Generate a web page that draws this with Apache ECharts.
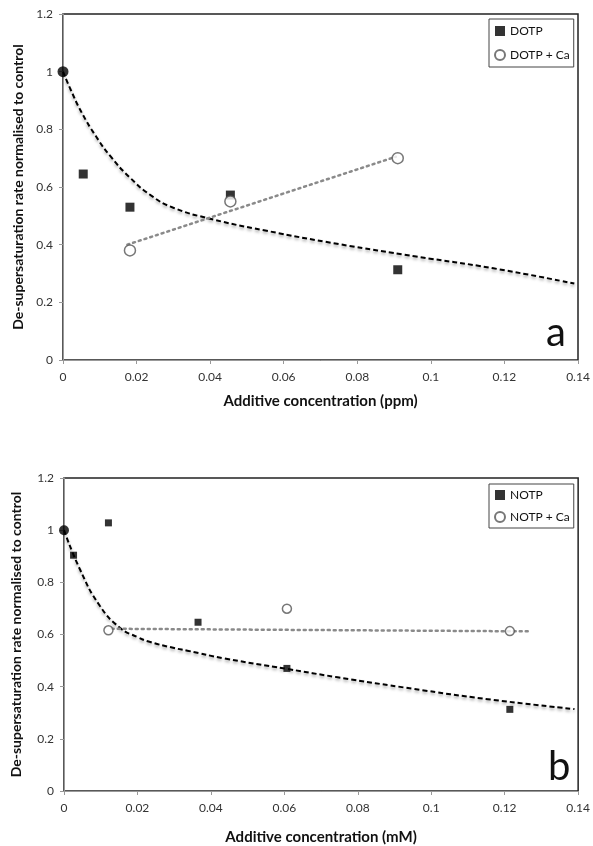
<!DOCTYPE html>
<html>
<head>
	<meta charset="UTF-8">
	<title>de-supersaturation rate</title>
	<script src="https://cdn.jsdelivr.net/npm/echarts@6/dist/echarts.min.js"></script>
	<style>
		body { margin: 0; background: #fff; }
		#chart { width: 593px; height: 846px; }
	</style>
</head>
<body>
<div id="chart"></div>
<script type="text/javascript">

	// panel a (ppm)
	var dotp = [[0.0055, 0.645], [0.0182, 0.53], [0.0455, 0.572], [0.091, 0.313]];
	var dotpCa = [[0.0182, 0.38], [0.0455, 0.55], [0.091, 0.70]];
	var dotpFit = [[0, 1.0], [0.002, 0.94], [0.005, 0.86], [0.009, 0.775], [0.013, 0.705], [0.018, 0.635],
		[0.024, 0.57], [0.03, 0.528], [0.04, 0.49], [0.055, 0.449], [0.075, 0.402], [0.096, 0.359],
		[0.117, 0.318], [0.139, 0.265]];
	var dotpCaTrend = [[0.0175, 0.40], [0.0905, 0.705]];

	// panel b (mM)
	var notp = [[0.0026, 0.904], [0.0121, 1.028], [0.0365, 0.647], [0.0607, 0.47], [0.1214, 0.313]];
	var notpCa = [[0.0121, 0.616], [0.0607, 0.699], [0.1214, 0.613]];
	var notpFit = [[0, 1.0], [0.0043, 0.851], [0.0097, 0.711], [0.0153, 0.625], [0.02, 0.59],
		[0.0233, 0.572], [0.03, 0.548], [0.0336, 0.538], [0.0438, 0.508], [0.0608, 0.468],
		[0.0745, 0.436], [0.095, 0.392], [0.1154, 0.352], [0.139, 0.314]];
	var notpCaTrend = [[0.013, 0.622], [0.127, 0.612]];

	var control = [[0, 1]];

	var xTicks = [0, 0.02, 0.04, 0.06, 0.08, 0.1, 0.12, 0.14];
	var yTicks = [0, 0.2, 0.4, 0.6, 0.8, 1, 1.2];

	var yTitle = 'De-supersaturation rate normalised to control';
	var xTitleA = 'Additive concentration (ppm)';
	var xTitleB = 'Additive concentration (mM)';

	var font = 'Lato, "Open Sans", sans-serif';

	function xAxisFor(idx, title, gap) {
		return {
			type: 'value', gridIndex: idx,
			min: xTicks[0], max: xTicks[xTicks.length - 1], interval: xTicks[1] - xTicks[0],
			name: title, nameLocation: 'middle', nameGap: gap,
			nameTextStyle: { fontFamily: font, fontWeight: 'bold', fontSize: 15, color: '#111' },
			axisLine: { show: true, lineStyle: { color: '#999', width: 1 } },
			axisTick: { show: true, inside: false, length: 4, lineStyle: { color: '#999' } },
			axisLabel: { fontFamily: font, fontSize: 12, color: '#333', margin: 11 },
			splitLine: { show: false }
		};
	}
	function yAxisFor(idx, gap) {
		return {
			type: 'value', gridIndex: idx,
			min: yTicks[0], max: yTicks[yTicks.length - 1], interval: yTicks[1] - yTicks[0],
			name: yTitle, nameLocation: 'middle', nameGap: gap, nameRotate: 90,
			nameTextStyle: { fontFamily: font, fontWeight: 'bold', fontSize: 14, color: '#111' },
			axisLine: { show: true, lineStyle: { color: '#999', width: 1 } },
			axisTick: { show: true, inside: false, length: 4, lineStyle: { color: '#999' } },
			axisLabel: { fontFamily: font, fontSize: 12, color: '#333', margin: 10 },
			splitLine: { show: false }
		};
	}

	var fitLine = {
		color: '#000', width: 2, type: [5, 3],
		shadowColor: 'rgba(0,0,0,0.35)', shadowBlur: 3, shadowOffsetY: 2
	};
	var trendLine = { color: '#8a8a8a', width: 2.5, type: [2, 4], cap: 'round' };

	var myChart = echarts.init(document.getElementById('chart'));
	var option = {
		animation: false,
		grid: [
			{ left: 63, top: 14, width: 515, height: 346, show: true, borderColor: '#222', borderWidth: 1.5, backgroundColor: '#fff' },
			{ left: 64, top: 478, width: 520, height: 316, show: true, borderColor: '#222', borderWidth: 1.5, backgroundColor: '#fff' }
		],
		xAxis: [xAxisFor(0, xTitleA, 34), xAxisFor(1, xTitleB, 39)],
		yAxis: [yAxisFor(0, 35), yAxisFor(1, 41)],
		legend: [
			{
				data: ['DOTP', 'DOTP + Ca'], orient: 'vertical', left: 489, top: 19,
				borderColor: '#444', borderWidth: 1, padding: [6, 4, 6, 5], itemGap: 12,
				itemWidth: 10, itemHeight: 10, itemTextGap: 4,
				textStyle: { fontFamily: font, fontSize: 12, color: '#111' }
			},
			{
				data: ['NOTP', 'NOTP + Ca'], orient: 'vertical', left: 489, top: 484,
				borderColor: '#444', borderWidth: 1, padding: [5, 4, 5, 5], itemGap: 10,
				itemWidth: 10, itemHeight: 10, itemTextGap: 4,
				textStyle: { fontFamily: font, fontSize: 12, color: '#111' }
			}
		],
		graphic: [
			{ type: 'text', left: 546, top: 313, style: { text: 'a', fontFamily: font, fontSize: 40, fill: '#111' } },
			{ type: 'text', left: 548, top: 747, style: { text: 'b', fontFamily: font, fontSize: 40, fill: '#111' } }
		],
		series: [
			{ name: 'DOTP fit', type: 'line', xAxisIndex: 0, yAxisIndex: 0, data: dotpFit, smooth: 0.5,
				showSymbol: false, lineStyle: fitLine, z: 2 },
			{ name: 'DOTP + Ca trend', type: 'line', xAxisIndex: 0, yAxisIndex: 0, data: dotpCaTrend,
				showSymbol: false, lineStyle: trendLine, z: 2 },
			{ name: 'DOTP', type: 'scatter', xAxisIndex: 0, yAxisIndex: 0, data: dotp, symbol: 'rect', symbolSize: 9,
				itemStyle: { color: '#000' }, z: 3 },
			{ name: 'DOTP + Ca', type: 'scatter', xAxisIndex: 0, yAxisIndex: 0, data: dotpCa, symbol: 'circle', symbolSize: 11,
				itemStyle: { color: '#fff', borderColor: '#555', borderWidth: 1.5 }, z: 3 },
			{ name: 'control a', type: 'scatter', xAxisIndex: 0, yAxisIndex: 0, data: control, symbol: 'circle', symbolSize: 11,
				itemStyle: { color: '#000' }, z: 4 },

			{ name: 'NOTP fit', type: 'line', xAxisIndex: 1, yAxisIndex: 1, data: notpFit, smooth: 0.5,
				showSymbol: false, lineStyle: fitLine, z: 2 },
			{ name: 'NOTP + Ca trend', type: 'line', xAxisIndex: 1, yAxisIndex: 1, data: notpCaTrend,
				showSymbol: false, lineStyle: trendLine, z: 2 },
			{ name: 'NOTP', type: 'scatter', xAxisIndex: 1, yAxisIndex: 1, data: notp, symbol: 'rect', symbolSize: 7,
				itemStyle: { color: '#000' }, z: 3 },
			{ name: 'NOTP + Ca', type: 'scatter', xAxisIndex: 1, yAxisIndex: 1, data: notpCa, symbol: 'circle', symbolSize: 9,
				itemStyle: { color: '#fff', borderColor: '#555', borderWidth: 1.5 }, z: 3 },
			{ name: 'control b', type: 'scatter', xAxisIndex: 1, yAxisIndex: 1, data: control, symbol: 'circle', symbolSize: 10,
				itemStyle: { color: '#000' }, z: 4 }
		]
	};
	myChart.setOption(option);

</script>
</body>
</html>
